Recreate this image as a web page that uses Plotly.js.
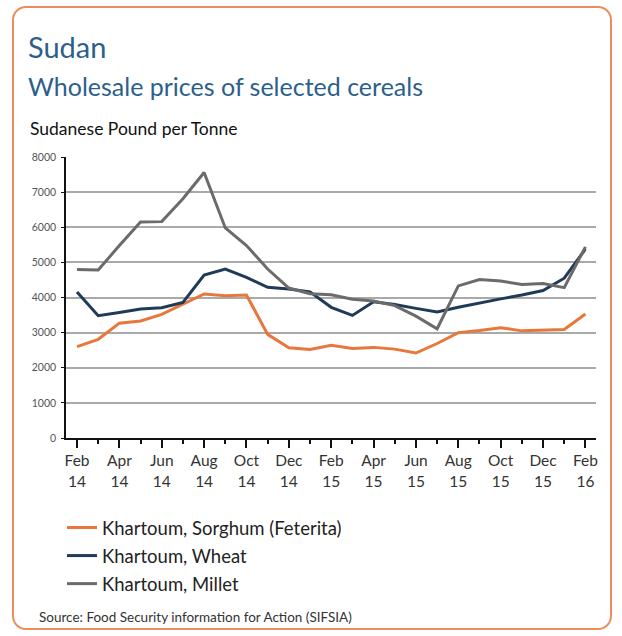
<!DOCTYPE html>
<html>
<head>
<meta charset="utf-8">
<script src="https://cdn.plot.ly/plotly-3.0.1.min.js"></script>
<style>
  html, body { margin: 0; padding: 0; background: #fff; }
  #wrap { position: relative; width: 622px; height: 636px; }
  #frame { position: absolute; left: 12px; top: 6px; width: 596px; height: 620px;
           border: 2.5px solid #ee8d5c; border-radius: 14px; background: #fff; }
  #chart { position: absolute; left: 0; top: 0; width: 622px; height: 636px; }
</style>
</head>
<body>
<div id="wrap">
  <div id="frame"></div>
  <div id="chart"></div>
</div>
<script>
const months = ["Feb 14","Mar 14","Apr 14","May 14","Jun 14","Jul 14","Aug 14","Sep 14","Oct 14","Nov 14","Dec 14","Jan 15",
                "Feb 15","Mar 15","Apr 15","May 15","Jun 15","Jul 15","Aug 15","Sep 15","Oct 15","Nov 15","Dec 15","Jan 16","Feb 16"];
const sorghum = [2600,2810,3270,3330,3520,3810,4100,4050,4070,2950,2570,2520,2640,2550,2580,2530,2420,2690,3000,3060,3140,3050,3070,3090,3530];
const wheat   = [4160,3480,3570,3670,3710,3860,4640,4810,4570,4290,4240,4160,3720,3490,3880,3800,3690,3590,3720,3850,3960,4070,4200,4550,5380];
const millet  = [4800,4780,5480,6150,6160,6810,7560,5980,5480,4810,4270,4110,4080,3950,3900,3770,3470,3110,4330,4510,4470,4370,4400,4280,5440];
const seriesNames = ["Khartoum, Sorghum (Feterita)","Khartoum, Wheat","Khartoum, Millet"];
const tickLabels = ["Feb<br>14","Apr<br>14","Jun<br>14","Aug<br>14","Oct<br>14","Dec<br>14","Feb<br>15","Apr<br>15","Jun<br>15","Aug<br>15","Oct<br>15","Dec<br>15","Feb<br>16"];

const idx = months.map((m, i) => i);
const majorVals = idx.filter(i => i % 2 === 0);
const minorVals = idx.filter(i => i % 2 === 1);

const FONT = "Lato, 'Open Sans', sans-serif";
const colors = ["#e8773b", "#1f3b57", "#6b6b6b"];
const data = [sorghum, wheat, millet].map((ys, k) => ({
  x: idx, y: ys, type: "scatter", mode: "lines", name: seriesNames[k],
  line: { color: colors[k], width: 3 }, legendgroup: "g" + k,
  text: months, hoverinfo: "text+y"
}));
const layout = {
  width: 622, height: 636,
  paper_bgcolor: "rgba(0,0,0,0)", plot_bgcolor: "rgba(0,0,0,0)",
  margin: { l: 66, r: 26, t: 157, b: 198, autoexpand: false },
  font: { family: FONT, color: "#222" },
  title: {
    text: "Sudan<br><span style='font-size:25px'>Wholesale prices of selected cereals</span>",
    font: { family: FONT, size: 29, color: "#2c5f8c" },
    xref: "container", yref: "container", x: 28/622, xanchor: "left",
    y: 1 - 58/636, yanchor: "top", automargin: false
  },
  xaxis: {
    range: [-0.52, 24.5], tickmode: "array", tickvals: majorVals, ticktext: tickLabels,
    ticks: "outside", ticklen: 8, tickwidth: 1.5, tickcolor: "#111", tickangle: 0, automargin: false,
    minor: { tickmode: "array", tickvals: minorVals, ticks: "outside", ticklen: 4, tickwidth: 1.5, tickcolor: "#111", showgrid: false },
    showline: true, linecolor: "#111", linewidth: 1.5, showgrid: false, zeroline: false,
    tickfont: { family: FONT, size: 15.5, color: "#333" }, fixedrange: true
  },
  yaxis: {
    range: [0, 8000], dtick: 1000, tick0: 0, automargin: false,
    ticks: "outside", ticklen: 3, tickcolor: "#111",
    showline: true, linecolor: "#111", linewidth: 1.5,
    showgrid: true, gridcolor: "#a9a9a9", gridwidth: 1.6, zeroline: false,
    tickfont: { family: FONT, size: 10.5, color: "#555" }, ticklabelstandoff: 3, fixedrange: true
  },
  showlegend: true,
  legend: {
    xref: "container", yref: "container", x: 62/622, y: 1 - 509/636, xanchor: "left", yanchor: "top",
    font: { family: FONT, size: 18.5, color: "#222" }, traceorder: "grouped", tracegroupgap: 1,
    bgcolor: "rgba(0,0,0,0)"
  },
  annotations: [
    { text: "Sudanese Pound per Tonne", xref: "paper", yref: "paper",
      x: (28 - 66) / 530, y: 1 + (157 - 128) / 281, xanchor: "left", yanchor: "middle",
      showarrow: false, font: { family: FONT, size: 17.5, color: "#111" } },
    { text: "Source: Food Security information for Action (SIFSIA)", xref: "paper", yref: "paper",
      x: (37 - 66) / 530, y: -(617 - 438) / 281, xanchor: "left", yanchor: "middle",
      showarrow: false, font: { family: FONT, size: 13.5, color: "#333" } }
  ]
};
Plotly.newPlot("chart", data, layout, { displayModeBar: false });
</script>
</body>
</html>
